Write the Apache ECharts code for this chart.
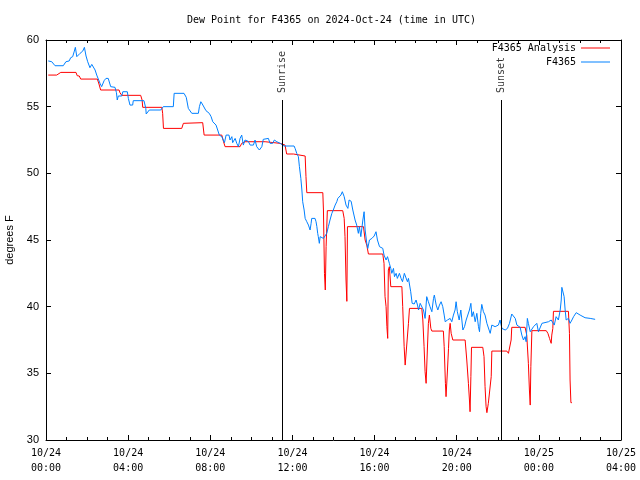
<!DOCTYPE html>
<html><head><meta charset="utf-8">
<script src="https://cdn.jsdelivr.net/npm/echarts@6/dist/echarts.min.js"></script>
<style>html,body{margin:0;padding:0;background:#fff}#c{width:640px;height:480px}</style>
</head><body><div id="c"></div>
<script>
// x axis: hours since 2024-10-24 00:00 UTC
const xTickLabels = ['10/24\n00:00','10/24\n04:00','10/24\n08:00','10/24\n12:00','10/24\n16:00','10/24\n20:00','10/25\n00:00','10/25\n04:00'];
const seriesNames = ['F4365 Analysis','F4365'];
const sunEventNames = ['Sunrise','Sunset'];
const sunEventHours = [11.52, 22.18];

const analysisData = [
[0.11,57.37],[0.52,57.37],[0.60,57.3],[0.72,57.57],[1.46,57.57],[1.52,57.32],[1.62,57.3],[1.69,57.07],[2.50,57.07],[2.58,56.7],
[2.66,56.25],[3.56,56.25],[3.60,56.05],[3.69,55.85],[4.61,55.85],[4.68,55.5],[4.71,54.95],[5.64,54.95],[5.68,54.5],[5.72,53.37],
[6.61,53.37],[6.69,53.75],[7.63,53.8],[7.70,52.87],[8.56,52.87],[8.64,52.4],[8.72,52.0],[9.45,52.0],[9.53,52.25],[9.69,52.37],
[10.67,52.37],[10.75,52.25],[11.40,52.25],[11.48,52.12],[11.64,52.12],[11.72,51.45],[12.05,51.45],[12.13,51.3],[12.62,51.3],[12.66,49.75],
[12.70,48.55],[13.48,48.55],[13.51,47.25],[13.56,42.5],[13.60,41.25],[13.64,44.5],[13.70,47.2],[14.45,47.2],[14.52,46.62],[14.56,45.25],
[14.61,42.0],[14.65,40.4],[14.68,46.0],[15.46,46.0],[15.54,45.0],[15.62,44.62],[15.70,43.95],[16.40,43.95],[16.46,43.25],[16.51,40.75],
[16.56,40.0],[16.60,38.5],[16.64,37.62],[16.67,42.75],[16.72,43.0],[16.79,41.5],[17.33,41.5],[17.37,40.0],[17.44,37.0],[17.49,35.62],
[17.57,35.62],[17.65,38.75],[17.70,39.87],[18.30,39.87],[18.35,39.0],[18.41,37.0],[18.46,35.12],[18.51,34.25],[18.57,36.75],[18.62,38.75],
[18.67,39.37],[18.74,38.37],[18.79,38.17],[19.35,38.17],[19.39,37.0],[19.45,34.25],[19.48,33.25],[19.55,35.25],[19.60,36.87],[19.64,38.25],
[19.68,38.75],[19.73,38.0],[19.81,37.5],[20.41,37.5],[20.49,36.0],[20.57,34.25],[20.62,33.0],[20.65,32.12],[20.69,34.75],[20.72,36.95],
[21.27,36.95],[21.33,36.25],[21.38,34.0],[21.43,32.5],[21.47,32.05],[21.54,32.75],[21.63,32.75],[21.68,34.75],[21.71,36.67],[22.44,36.67],
[22.52,36.5],[22.60,36.5],[22.65,37.5],[22.68,38.45],[23.33,38.45],[23.41,37.87],[23.49,35.75],[23.54,33.75],[23.58,32.62],[23.61,35.5],
[23.66,38.2],[24.36,38.2],[24.44,38.0],[24.52,37.62],[24.60,37.25],[24.63,37.87],[24.68,38.37],[24.71,39.65],[25.44,39.65],[25.49,38.0],
[25.52,34.5],[25.56,32.8],[25.61,32.8]
];

const stationData = [
[0.11,58.43],[0.28,58.37],[0.44,58.07],[0.84,58.07],[0.97,58.37],[1.13,58.43],[1.20,58.67],[1.30,58.75],[1.38,59.17],[1.43,59.45],
[1.50,58.75],[1.57,58.67],[1.66,59.0],[1.79,59.17],[1.87,59.45],[1.95,58.8],[2.03,58.37],[2.14,57.92],[2.23,58.17],[2.30,58.17],
[2.39,57.75],[2.47,57.37],[2.63,56.75],[2.71,56.5],[2.83,56.95],[2.92,57.12],[3.03,57.12],[3.15,56.5],[3.36,56.45],[3.43,56.05],
[3.47,55.5],[3.52,55.8],[3.69,55.8],[3.74,56.12],[3.96,56.12],[4.01,55.62],[4.09,55.12],[4.22,55.12],[4.25,55.45],[4.77,55.45],
[4.86,54.87],[4.88,54.45],[5.03,54.75],[5.59,54.75],[5.71,55.0],[6.20,55.0],[6.24,56.0],[6.72,56.0],[6.83,55.7],[6.93,54.87],
[7.10,54.5],[7.42,54.5],[7.47,55.0],[7.54,55.37],[7.61,55.2],[7.70,55.12],[7.79,54.7],[7.88,54.65],[7.95,54.5],[8.04,54.25],
[8.12,53.87],[8.20,53.8],[8.28,53.62],[8.36,53.25],[8.44,52.87],[8.56,52.75],[8.64,52.7],[8.69,52.3],[8.77,52.87],[8.83,52.95],
[8.91,52.87],[8.96,52.5],[9.05,52.75],[9.09,52.3],[9.21,52.62],[9.29,52.25],[9.37,52.0],[9.45,52.62],[9.53,52.87],[9.61,52.12],
[9.69,52.5],[9.85,52.4],[9.94,52.12],[10.10,52.12],[10.18,52.5],[10.26,52.0],[10.39,51.75],[10.51,52.0],[10.58,52.55],[10.83,52.62],
[10.91,52.25],[11.04,52.25],[11.12,52.5],[11.24,52.37],[11.32,52.5],[11.40,52.25],[11.48,52.2],[11.59,52.05],[12.08,52.05],[12.13,51.87],
[12.21,51.5],[12.29,51.25],[12.34,50.5],[12.41,49.62],[12.46,48.75],[12.50,47.87],[12.57,47.25],[12.62,46.62],[12.70,46.37],[12.78,46.12],
[12.86,45.75],[12.91,46.25],[12.94,46.62],[13.10,46.62],[13.15,46.37],[13.19,46.0],[13.23,45.5],[13.26,45.25],[13.31,44.75],[13.35,45.25],
[13.43,45.37],[13.51,45.12],[13.59,45.25],[13.67,45.5],[13.75,46.0],[13.83,46.5],[13.92,47.0],[13.99,47.25],[14.08,47.62],[14.16,47.87],
[14.21,48.12],[14.29,48.0],[14.36,48.37],[14.43,48.62],[14.52,48.25],[14.61,47.62],[14.70,47.37],[14.76,48.0],[14.86,47.9],[14.94,47.25],
[15.05,46.5],[15.13,46.12],[15.21,45.5],[15.26,46.0],[15.33,45.25],[15.43,46.5],[15.49,47.12],[15.54,45.75],[15.62,44.75],[15.67,44.37],
[15.75,45.0],[15.87,45.12],[15.98,45.3],[16.07,45.62],[16.14,45.0],[16.24,44.5],[16.40,44.37],[16.46,43.87],[16.56,43.5],[16.63,43.75],
[16.72,43.25],[16.79,42.87],[16.84,42.5],[16.92,42.87],[16.97,42.25],[17.05,42.5],[17.11,42.12],[17.21,42.5],[17.29,42.12],[17.36,41.87],
[17.45,42.5],[17.54,42.62],[17.60,41.87],[17.65,42.12],[17.70,42.0],[17.76,41.12],[17.83,40.25],[17.93,40.2],[18.02,40.5],[18.09,40.12],
[18.14,39.75],[18.22,40.25],[18.30,40.37],[18.38,39.75],[18.46,39.12],[18.54,40.75],[18.62,40.37],[18.70,40.0],[18.79,39.62],[18.87,40.62],
[18.91,40.87],[19.00,40.12],[19.08,39.75],[19.16,40.12],[19.24,40.37],[19.32,40.0],[19.39,39.37],[19.44,38.87],[19.55,39.0],[19.68,39.12],
[19.76,38.87],[19.84,39.37],[19.92,39.75],[19.97,40.37],[20.03,39.62],[20.12,39.0],[20.20,39.75],[20.30,38.25],[20.38,38.5],[20.46,39.0],
[20.54,38.87],[20.62,39.75],[20.69,40.25],[20.74,39.25],[20.81,39.62],[20.90,38.87],[20.98,39.5],[21.06,38.5],[21.11,38.12],[21.17,39.5],
[21.22,40.17],[21.30,39.62],[21.38,39.37],[21.47,38.75],[21.54,38.62],[21.63,38.0],[21.71,38.62],[21.79,38.55],[21.87,38.5],[21.95,38.37],
[22.03,38.62],[22.11,39.0],[22.20,38.37],[22.36,38.25],[22.47,38.37],[22.57,38.75],[22.68,39.45],[22.76,39.37],[22.85,39.12],[22.93,38.62],
[23.01,38.5],[23.09,38.45],[23.17,37.87],[23.25,37.5],[23.33,37.75],[23.38,37.37],[23.44,39.12],[23.49,38.75],[23.58,38.12],[23.66,38.0],
[23.74,38.5],[23.82,38.37],[23.90,38.75],[23.98,38.12],[24.06,38.25],[24.15,38.75],[24.22,38.87],[24.47,38.87],[24.55,38.75],[24.60,39.0],
[24.68,38.87],[24.75,38.62],[24.84,39.25],[24.95,39.0],[25.04,39.75],[25.09,40.5],[25.12,41.45],[25.17,41.37],[25.23,40.75],[25.28,39.75],
[25.33,39.0],[25.39,38.87],[25.44,39.12],[25.52,38.75],[25.61,39.0],[25.69,39.25],[25.82,39.55],[26.01,39.37],[26.25,39.17],[26.50,39.12],
[26.74,39.05]
];

const mono = '"DejaVu Sans Mono", monospace';
const sans = '"Liberation Sans", Arial, sans-serif';
const chart = echarts.init(document.getElementById('c'), null, {renderer: 'canvas'});

const xBase = {
  type: 'value', min: 0, max: 28, interval: 4,
  axisLine: {show: true, onZero: false, lineStyle: {color: '#000', width: 1}},
  axisTick: {show: true, inside: true, length: 5, lineStyle: {color: '#000'}},
  minorTick: {show: true, splitNumber: 4, length: 3, lineStyle: {color: '#000'}},
  splitLine: {show: false}
};
const yBase = {
  type: 'value', min: 30, max: 60, interval: 5,
  axisLine: {show: true, onZero: false, lineStyle: {color: '#000', width: 1}},
  axisTick: {show: true, inside: true, length: 5, lineStyle: {color: '#000'}},
  splitLine: {show: false}
};

const sunLineTop = 55.5;
const sunLines = sunEventHours.map(h => [{coord: [h, sunLineTop]}, {coord: [h, 30]}]);
const sunLabels = sunEventHours.map((h, i) => ({value: [h, sunLineTop], name: sunEventNames[i]}));

const legendCommon = {
  right: 30, align: 'right', itemWidth: 29, itemHeight: 1, icon: 'rect', padding: 0,
  textStyle: {fontFamily: mono, fontSize: 10, color: '#000'}
};

chart.setOption({
  animation: false,
  backgroundColor: '#fff',
  title: {
    text: 'Dew Point for F4365 on 2024-Oct-24 (time in UTC)',
    left: 187, top: 15, padding: 0,
    textStyle: {fontFamily: mono, fontSize: 10, fontWeight: 'normal', color: '#000'}
  },
  grid: {left: 46, right: 19, top: 40, bottom: 40, containLabel: false, outerBoundsMode: 'none'},
  legend: [
    Object.assign({data: [seriesNames[0]], top: 43}, legendCommon),
    Object.assign({data: [seriesNames[1]], top: 57}, legendCommon)
  ],
  xAxis: [
    Object.assign({}, xBase, {
      position: 'bottom',
      axisLabel: {
        formatter: v => xTickLabels[Math.round(v / 4)],
        fontFamily: mono, fontSize: 10, color: '#000', margin: 6, lineHeight: 15
      }
    }),
    Object.assign({}, xBase, {position: 'top', axisLabel: {show: false}})
  ],
  yAxis: [
    Object.assign({}, yBase, {
      position: 'left',
      name: 'degrees F', nameLocation: 'middle', nameGap: 30, nameRotate: 90,
      nameTextStyle: {fontFamily: sans, fontSize: 11, color: '#000'},
      axisLabel: {fontFamily: sans, fontSize: 11, color: '#000', margin: 7}
    }),
    Object.assign({}, yBase, {position: 'right', axisLabel: {show: false}})
  ],
  series: [
    {
      name: seriesNames[0], type: 'line', data: analysisData,
      symbol: 'none', showSymbol: false, color: '#ff0000',
      lineStyle: {color: '#ff0000', width: 1}, z: 2,
      markLine: {
        silent: true, symbol: ['none', 'none'], animation: false,
        lineStyle: {color: '#000', width: 1, type: 'solid'},
        label: {show: false},
        data: sunLines
      }
    },
    {
      name: seriesNames[1], type: 'line', data: stationData,
      symbol: 'none', showSymbol: false, color: '#0080ff',
      lineStyle: {color: '#0080ff', width: 1}, z: 3
    },
    {
      name: 'sunEvents', type: 'scatter', data: sunLabels, symbolSize: 0, silent: true,
      label: {
        show: true, formatter: p => p.name, position: [0, -7], rotate: 90,
        align: 'left', verticalAlign: 'middle',
        fontFamily: mono, fontSize: 10, color: '#000'
      }
    }
  ]
});
</script>
</body></html>
